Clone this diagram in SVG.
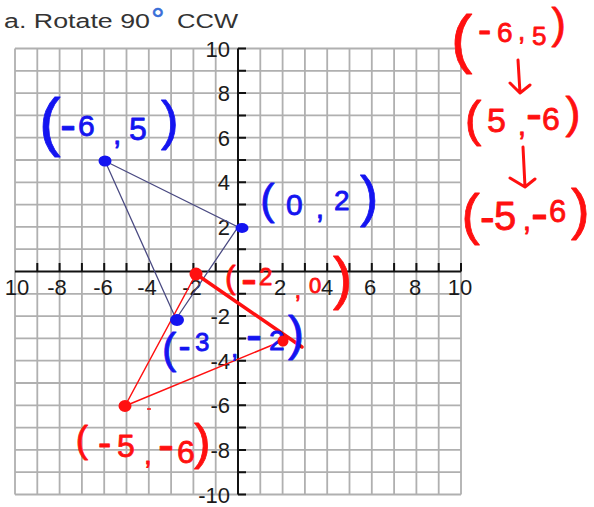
<svg xmlns="http://www.w3.org/2000/svg" width="594" height="507" viewBox="0 0 594 507">
<style>
.grid{stroke:#b0b0b0;stroke-width:1.8;fill:none}
.axis{stroke:#111;stroke-width:2;fill:none}
.lbl{font-family:"Liberation Sans",Arial,sans-serif;font-size:22px;fill:#1a1a1a}
.title{font-family:"Liberation Sans",Arial,sans-serif;font-size:20px;fill:#333}
.hb{font-family:"Liberation Sans",Arial,sans-serif;fill:#1414f0;stroke:#1414f0;stroke-width:0.8;stroke-linejoin:round}
.hr{font-family:"Liberation Sans",Arial,sans-serif;fill:#ff1010;stroke:#ff1010;stroke-width:0.8;stroke-linejoin:round}
.blue-tri{stroke:#4a4a82;stroke-width:1.3;fill:none}
.red-thin{stroke:#ff1010;stroke-width:1.5;fill:none}
.red-thick{stroke:#ff1010;stroke-width:3.5;fill:none;stroke-linecap:round}
.arrow{stroke:#ff1010;stroke-width:3;fill:none;stroke-linecap:round;stroke-linejoin:round}
</style>
<rect width="594" height="507" fill="#fff"/>
<g id="title">
<text class="title" x="4" y="28" textLength="146" lengthAdjust="spacingAndGlyphs">a. Rotate 90</text>
<text x="151" y="31" style="font-family:'Liberation Sans',Arial,sans-serif;font-size:34px;fill:#3a6fd8;stroke:#3a6fd8;stroke-width:0.5">°</text>
<text class="title" x="177" y="28" textLength="61" lengthAdjust="spacingAndGlyphs">CCW</text>
</g>
<g id="grid">
<path class="grid" d="M15 48.5V494.5M37.3 48.5V494.5M59.6 48.5V494.5M81.9 48.5V494.5M104.2 48.5V494.5M126.5 48.5V494.5M148.8 48.5V494.5M171.1 48.5V494.5M193.4 48.5V494.5M215.7 48.5V494.5M260.3 48.5V494.5M282.6 48.5V494.5M304.9 48.5V494.5M327.2 48.5V494.5M349.5 48.5V494.5M371.8 48.5V494.5M394.1 48.5V494.5M416.4 48.5V494.5M438.7 48.5V494.5M461 48.5V494.5
M15 48.5H461M15 70.8H461M15 93.1H461M15 115.4H461M15 137.7H461M15 160H461M15 182.3H461M15 204.6H461M15 226.9H461M15 249.2H461M15 293.8H461M15 316.1H461M15 338.4H461M15 360.7H461M15 383H461M15 405.3H461M15 427.6H461M15 449.9H461M15 472.2H461M15 494.5H461"/>
</g>
<g id="axes">
<path class="axis" d="M238 48.5V494.5M15 271.5H461"/>
<path class="axis" d="M238 48.5H246M238 70.8H246M238 93.1H246M238 115.4H246M238 137.7H246M238 160H246M238 182.3H246M238 204.6H246M238 226.9H246M238 249.2H246M238 293.8H246M238 316.1H246M238 338.4H246M238 360.7H246M238 383H246M238 405.3H246M238 427.6H246M238 449.9H246M238 472.2H246M238 494.5H246
M37.3 263V271.5M59.6 263V271.5M81.9 263V271.5M104.2 263V271.5M126.5 263V271.5M148.8 263V271.5M171.1 263V271.5M193.4 263V271.5M215.7 263V271.5M260.3 263V271.5M282.6 263V271.5M304.9 263V271.5M327.2 263V271.5M349.5 263V271.5M371.8 263V271.5M394.1 263V271.5M416.4 263V271.5M438.7 263V271.5M461 263V271.5"/>
</g>
<g id="axis-labels">
<g text-anchor="middle">
<text class="lbl" x="17" y="295">10</text>
<text class="lbl" x="57" y="295">-8</text>
<text class="lbl" x="103" y="295">-6</text>
<text class="lbl" x="147" y="295">-4</text>
<text class="lbl" x="192" y="295">-2</text>
<text class="lbl" x="280" y="295">2</text>
<text class="lbl" x="327" y="295">4</text>
<text class="lbl" x="370" y="295">6</text>
<text class="lbl" x="415" y="295">8</text>
<text class="lbl" x="460" y="295">10</text>
</g>
<g text-anchor="end">
<text class="lbl" x="230" y="56.5">10</text>
<text class="lbl" x="230" y="101.1">8</text>
<text class="lbl" x="230" y="145.7">6</text>
<text class="lbl" x="230" y="190.3">4</text>
<text class="lbl" x="230" y="234.9">2</text>
<text class="lbl" x="230" y="324.1">-2</text>
<text class="lbl" x="230" y="368.7">-4</text>
<text class="lbl" x="230" y="413.3">-6</text>
<text class="lbl" x="230" y="457.9">-8</text>
<text class="lbl" x="230" y="502.5">-10</text>
</g>
</g>
<g id="connectors">
<path class="blue-tri" d="M105 161L238 227L176 319Z"/>
<path class="red-thin" d="M125 406L282 341M125 406L196 274"/>
<path class="red-thick" d="M196 274L302 347"/>
<path class="red-thin" d="M147 409H151"/>
<path class="arrow" d="M518 60L520 93M510 83L520 93L530 85"/>
<path class="arrow" d="M523 147L525 187M510 178L525 187L535 179"/>
</g>
<g id="point-blue-A">
<ellipse cx="105" cy="161" rx="6.5" ry="5.5" fill="#1414f0"/>
<text class="hb"><tspan x="38.9" y="144.2" font-size="65">(</tspan><tspan x="60" y="141" font-size="48">-</tspan><tspan x="78" y="136" font-size="30">6</tspan><tspan x="113" y="144" font-size="30">,</tspan><tspan x="129" y="140" font-size="32">5</tspan><tspan x="161" y="138.8" font-size="53">)</tspan></text>
</g>
<g id="point-blue-B">
<ellipse cx="242" cy="228" rx="6.5" ry="5" fill="#1414f0"/>
<text class="hb"><tspan x="260.3" y="213.9" font-size="43">(</tspan><tspan x="286" y="215" font-size="30">0</tspan><tspan x="315.7" y="218" font-size="30">,</tspan><tspan x="334" y="210" font-size="28">2</tspan><tspan x="360" y="215.3" font-size="55">)</tspan></text>
</g>
<g id="point-blue-C">
<ellipse cx="177" cy="320" rx="7" ry="6" fill="#1414f0"/>
<text class="hb"><tspan x="162" y="362.9" font-size="43">(</tspan><tspan x="178.4" y="357.8" font-size="36">-</tspan><tspan x="195" y="351" font-size="26">3</tspan><tspan x="231" y="357" font-size="26">,</tspan><tspan x="246" y="351" font-size="48">-</tspan><tspan x="269" y="350" font-size="28">2</tspan><tspan x="288" y="349.8" font-size="48">)</tspan></text>
</g>
<g id="point-red-A">
<circle cx="196" cy="274" r="6.5" fill="#ff1010"/>
<text class="hr"><tspan x="225" y="288.2" font-size="32">(</tspan><tspan x="241" y="295" font-size="48">-</tspan><tspan x="259" y="285" font-size="24">2</tspan><tspan x="294.6" y="298" font-size="24">,</tspan><tspan x="309" y="293" font-size="22">0</tspan><tspan x="333" y="297.7" font-size="58">)</tspan></text>
</g>
<g id="point-red-B">
<circle cx="283" cy="341" r="5.5" fill="#ff1010"/>
</g>
<g id="point-red-C">
<ellipse cx="125" cy="406" rx="6.5" ry="6" fill="#ff1010"/>
<text class="hr"><tspan x="75.7" y="452" font-size="37">(</tspan><tspan x="98" y="456" font-size="40">-</tspan><tspan x="117" y="457" font-size="32">5</tspan><tspan x="144" y="464" font-size="28">,</tspan><tspan x="158" y="461" font-size="48">-</tspan><tspan x="177" y="463" font-size="32">6</tspan><tspan x="194" y="459.4" font-size="50">)</tspan></text>
</g>
<g id="work">
<text class="hr"><tspan x="451" y="61.4" font-size="64">(</tspan><tspan x="478" y="43" font-size="40">-</tspan><tspan x="497" y="42" font-size="28">6</tspan><tspan x="518" y="40" font-size="26">,</tspan><tspan x="532" y="45" font-size="26">5</tspan><tspan x="551.5" y="37.9" font-size="43">)</tspan></text>
<text class="hr"><tspan x="464.8" y="136.4" font-size="50">(</tspan><tspan x="487" y="132" font-size="34">5</tspan><tspan x="517.7" y="135" font-size="30">,</tspan><tspan x="526" y="130" font-size="48">-</tspan><tspan x="542" y="130" font-size="32">6</tspan><tspan x="565.4" y="127.5" font-size="45">)</tspan></text>
<text class="hr"><tspan x="461.5" y="233.3" font-size="55">(</tspan><tspan x="480" y="232" font-size="44">-</tspan><tspan x="494" y="230" font-size="40">5</tspan><tspan x="522.7" y="230" font-size="30">,</tspan><tspan x="530.7" y="231" font-size="52">-</tspan><tspan x="549" y="222" font-size="31">6</tspan><tspan x="571" y="228" font-size="56">)</tspan></text>
</g>
</svg>
